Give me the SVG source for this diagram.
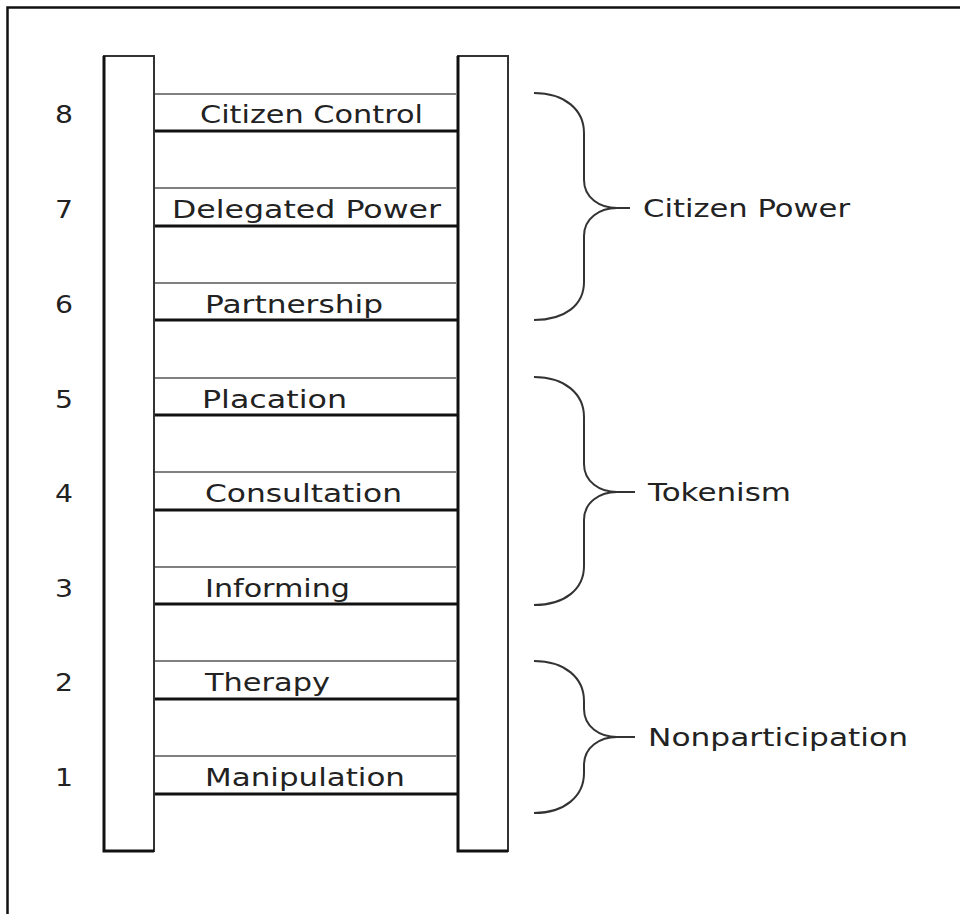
<svg xmlns="http://www.w3.org/2000/svg" width="960" height="914" viewBox="0 0 960 914">
<style>
.t{font-family:"DejaVu Sans",Verdana,sans-serif;font-size:24px;fill:#222}
.rail-l{stroke:#111;stroke-width:3;fill:none}
.rail-r{stroke:#333;stroke-width:2;fill:none}
.gray{stroke:#808080;stroke-width:2.2}
.black{stroke:#111;stroke-width:2.8}
.brace{fill:none;stroke:#333;stroke-width:2}
</style>
<rect width="960" height="914" fill="#fff"/>
<path d="M7.5,914 V7.5 H960" fill="none" stroke="#111" stroke-width="2.5"/>
<g id="rails">
<rect x="104" y="56" width="50" height="795" fill="#fff" stroke="#333" stroke-width="2"/>
<path class="rail-l" d="M104,56 V851 H154"/>
<rect x="458" y="56" width="50" height="795" fill="#fff" stroke="#333" stroke-width="2"/>
<path class="rail-l" d="M458,56 V851 H508"/>
</g>
<g id="connectors">
<line class="gray" x1="155" y1="94" x2="457" y2="94"/><line class="black" x1="155" y1="131" x2="457" y2="131"/>
<line class="gray" x1="155" y1="188" x2="457" y2="188"/><line class="black" x1="155" y1="226" x2="457" y2="226"/>
<line class="gray" x1="155" y1="283" x2="457" y2="283"/><line class="black" x1="155" y1="320" x2="457" y2="320"/>
<line class="gray" x1="155" y1="378" x2="457" y2="378"/><line class="black" x1="155" y1="415" x2="457" y2="415"/>
<line class="gray" x1="155" y1="472" x2="457" y2="472"/><line class="black" x1="155" y1="510" x2="457" y2="510"/>
<line class="gray" x1="155" y1="567" x2="457" y2="567"/><line class="black" x1="155" y1="604" x2="457" y2="604"/>
<line class="gray" x1="155" y1="661" x2="457" y2="661"/><line class="black" x1="155" y1="699" x2="457" y2="699"/>
<line class="gray" x1="155" y1="756" x2="457" y2="756"/><line class="black" x1="155" y1="794" x2="457" y2="794"/>
</g>
<g id="rung8"><text class="t" x="55" y="123" textLength="18" lengthAdjust="spacingAndGlyphs">8</text><text class="t" x="200" y="123" textLength="223" lengthAdjust="spacingAndGlyphs">Citizen Control</text></g>
<g id="rung7"><text class="t" x="55" y="218" textLength="18" lengthAdjust="spacingAndGlyphs">7</text><text class="t" x="172" y="218" textLength="269" lengthAdjust="spacingAndGlyphs">Delegated Power</text></g>
<g id="rung6"><text class="t" x="55" y="313" textLength="18" lengthAdjust="spacingAndGlyphs">6</text><text class="t" x="205" y="313" textLength="178" lengthAdjust="spacingAndGlyphs">Partnership</text></g>
<g id="rung5"><text class="t" x="55" y="408" textLength="18" lengthAdjust="spacingAndGlyphs">5</text><text class="t" x="202" y="408" textLength="145" lengthAdjust="spacingAndGlyphs">Placation</text></g>
<g id="rung4"><text class="t" x="55" y="502" textLength="18" lengthAdjust="spacingAndGlyphs">4</text><text class="t" x="205" y="502" textLength="197" lengthAdjust="spacingAndGlyphs">Consultation</text></g>
<g id="rung3"><text class="t" x="55" y="597" textLength="18" lengthAdjust="spacingAndGlyphs">3</text><text class="t" x="205" y="597" textLength="145" lengthAdjust="spacingAndGlyphs">Informing</text></g>
<g id="rung2"><text class="t" x="55" y="691" textLength="18" lengthAdjust="spacingAndGlyphs">2</text><text class="t" x="205" y="691" textLength="125" lengthAdjust="spacingAndGlyphs">Therapy</text></g>
<g id="rung1"><text class="t" x="55" y="786" textLength="18" lengthAdjust="spacingAndGlyphs">1</text><text class="t" x="205" y="786" textLength="200" lengthAdjust="spacingAndGlyphs">Manipulation</text></g>
<g id="citizen-power">
<path class="brace" d="M534,93 C565,93 584,110 584,133 V180 C584,198 600,208 617,208 H630 M617,208 C600,208 584,218 584,236 V282 C584,305 565,320 534,320"/>
<text class="t" x="643" y="217" textLength="207" lengthAdjust="spacingAndGlyphs">Citizen Power</text>
</g>
<g id="tokenism">
<path class="brace" d="M534,377 C565,377 584,394 584,417 V464 C584,482 600,492 617,492 H635 M617,492 C600,492 584,502 584,520 V566 C584,589 565,605 534,605"/>
<text class="t" x="648" y="501" textLength="143" lengthAdjust="spacingAndGlyphs">Tokenism</text>
</g>
<g id="nonparticipation">
<path class="brace" d="M534,661 C565,661 584,678 584,701 V709 C584,727 600,737 617,737 H635 M617,737 C600,737 584,747 584,765 V773 C584,796 565,813 534,813"/>
<text class="t" x="648" y="746" textLength="260" lengthAdjust="spacingAndGlyphs">Nonparticipation</text>
</g>
</svg>
